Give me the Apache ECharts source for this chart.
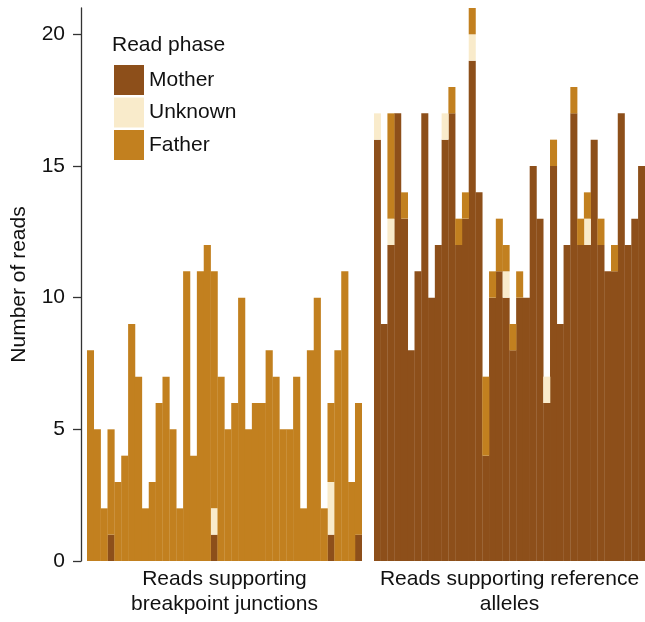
<!DOCTYPE html>
<html>
<head>
<meta charset="utf-8">
<script src="https://cdn.jsdelivr.net/npm/echarts@6/dist/echarts.min.js"></script>
<style>
  html, body { margin: 0; padding: 0; background: #fff; }
  #chart { width: 645px; height: 622px; }
</style>
</head>
<body>
<div id="chart"></div>
<script>
// reads per position, split by read phase
const groupNames = ['Reads supporting\nbreakpoint junctions', 'Reads supporting reference\nalleles'];
const phases = ['Mother', 'Unknown', 'Father'];
const phaseColors = ['#8d4f1a', '#f9ebcb', '#c2801f'];

const junctionMother  = [0,0,0,1,0,0,0,0,0,0, 0,0,0,0,0,0,0,0,1,0, 0,0,0,0,0,0,0,0,0,0, 0,0,0,0,0,1,0,0,0,1];
const junctionUnknown = [0,0,0,0,0,0,0,0,0,0, 0,0,0,0,0,0,0,0,1,0, 0,0,0,0,0,0,0,0,0,0, 0,0,0,0,0,2,0,0,0,0];
const junctionFather  = [8,5,2,4,3,4,9,7,2,3, 6,7,5,2,11,4,11,12,9,7, 5,6,10,5,6,6,8,7,5,5, 7,2,8,10,2,3,8,11,3,5];

const refMother  = [16,9,12,17,13,8,11,17,10,12, 16,17,12,13,19,14,4,10,11,10, 8,10,10,15,13,6,15,9,12,17, 12,12,16,12,11,11,17,12,13,15];
const refUnknown = [1,0,1,0,0,0,0,0,0,0, 1,0,0,0,1,0,0,0,0,1, 0,0,0,0,0,1,0,0,0,0, 0,1,0,0,0,0,0,0,0,0];
const refFather  = [0,0,4,0,1,0,0,0,0,0, 0,1,1,1,1,0,3,1,2,1, 1,1,0,0,0,0,1,0,0,1, 1,1,0,1,0,1,0,0,0,0];

const yTicks = [0, 5, 10, 15, 20];

const groups = [
  [junctionMother, junctionUnknown, junctionFather],
  [refMother, refUnknown, refFather]
];

const font = 'Liberation Sans, Arial, Helvetica, sans-serif';

const chart = echarts.init(document.getElementById('chart'));

const series = [];
groups.forEach((g, gi) => {
  g.forEach((vals, pi) => {
    series.push({
      name: phases[pi],
      type: 'bar',
      stack: 'g' + gi,
      xAxisIndex: gi,
      yAxisIndex: gi,
      data: vals.map(v => (v === 0 ? null : v)),
      // a hair wider than the band so neighbouring bars leave no seam
      barWidth: '104%',
      itemStyle: { color: phaseColors[pi] },
      emphasis: { disabled: true },
      silent: true
    });
  });
});

const xAxes = groups.map((g, gi) => ({
  type: 'category',
  gridIndex: gi,
  data: g[0].map((v, i) => i + 1),
  axisLine: { show: false },
  axisTick: { show: false },
  axisLabel: { show: false },
  name: groupNames[gi],
  nameLocation: 'middle',
  nameGap: 6,
  nameTextStyle: {
    fontFamily: font, fontSize: 21, color: '#111',
    lineHeight: 25, verticalAlign: 'top'
  }
}));

const yAxes = groups.map((g, gi) => ({
  type: 'value',
  gridIndex: gi,
  min: 0,
  max: 21,
  interval: 5,
  show: gi === 0,
  offset: 6,
  splitLine: { show: false },
  axisLine: { show: true, lineStyle: { color: '#333', width: 1.3 } },
  axisTick: { show: true, length: 8, customValues: yTicks, lineStyle: { color: '#333', width: 1.3 } },
  axisLabel: {
    margin: 16, fontFamily: font, fontSize: 21, color: '#111',
    customValues: yTicks
  },
  name: 'Number of reads',
  nameLocation: 'middle',
  nameGap: 51,
  nameRotate: 90,
  nameTextStyle: { fontFamily: font, fontSize: 21, color: '#111' }
}));

chart.setOption({
  animation: false,
  grid: [
    { left: 87, width: 275, top: 8, height: 558 },
    { left: 374, width: 276, top: 8, height: 558 }
  ],
  xAxis: xAxes,
  yAxis: yAxes,
  title: {
    text: 'Read phase',
    left: 107,
    top: 30,
    textStyle: { fontFamily: font, fontSize: 21, fontWeight: 'normal', color: '#111' }
  },
  legend: {
    data: phases,
    orient: 'vertical',
    left: 109,
    top: 60,
    itemWidth: 30,
    itemHeight: 30,
    itemGap: 2.5,
    icon: 'rect',
    selectedMode: false,
    textStyle: { fontFamily: font, fontSize: 21, color: '#111' }
  },
  series: series
});
</script>
</body>
</html>
